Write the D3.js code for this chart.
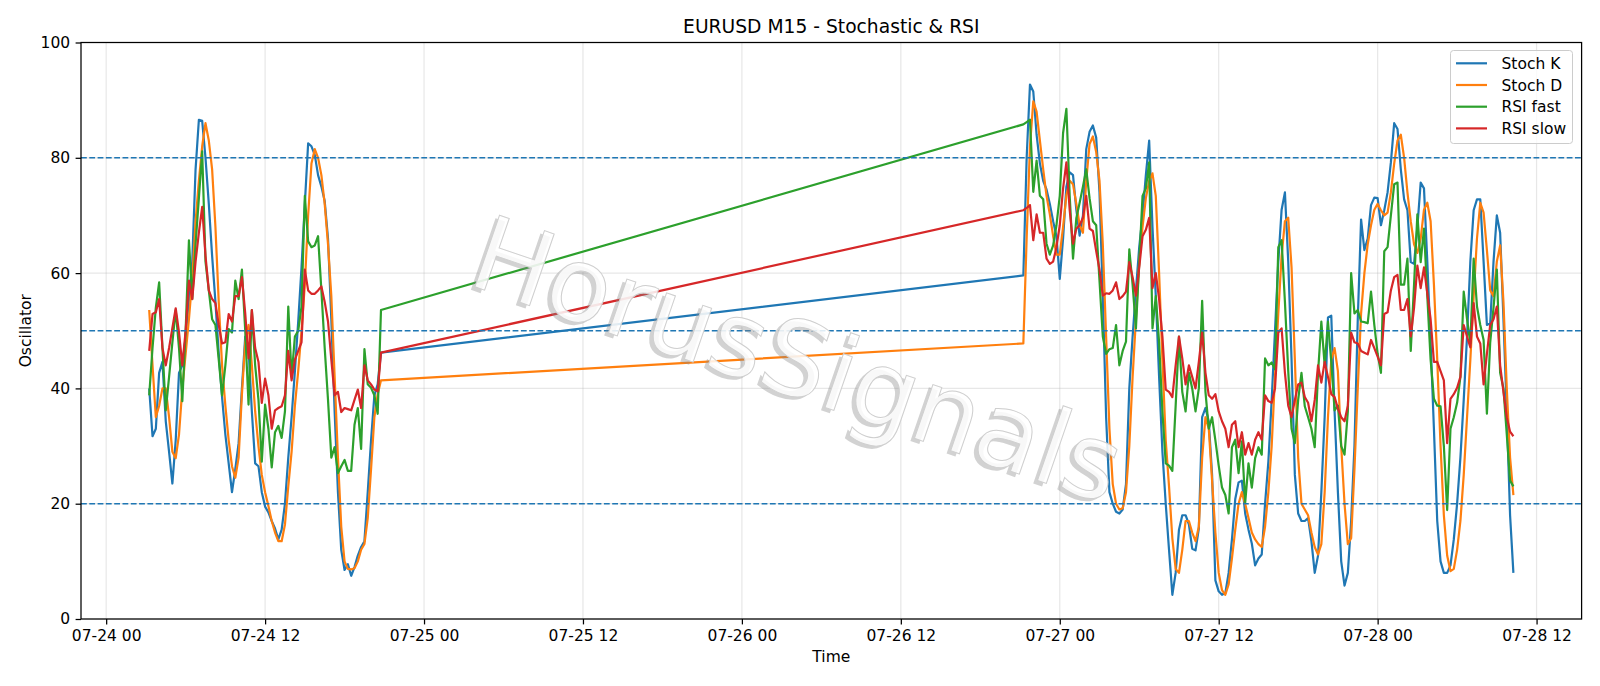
<!DOCTYPE html>
<html>
<head>
<meta charset="utf-8">
<script src="https://cdn.jsdelivr.net/npm/d3@7"></script>
<style>
  html, body { margin: 0; padding: 0; background: #fff; }
  svg { display: block; font-family: "DejaVu Sans", sans-serif; }
</style>
</head>
<body>
<svg id="chart" width="1600" height="686"></svg>
<script>
// two M15 sessions: Friday, then Sunday open -> Tuesday morning
const SESSION_STARTS = ["2020-07-24T03:15:00Z", "2020-07-26T21:15:00Z"];
const BAR_MINUTES = 15;

const SERIES_NAMES = ["Stoch K", "Stoch D", "RSI fast", "RSI slow"];
const LEVELS = [80, 50, 20];
const Y_TICKS = [0, 20, 40, 60, 80, 100];

// session 1
const stochK_fri = [40, 31.7, 33, 42.7, 44.6, 34.3, 29, 23.5, 31, 42.7,
  44, 49, 55.5, 62, 78, 86.6, 86.4, 80, 72, 63,
  55, 46, 38.5, 32, 27, 22, 26, 30.5, 40, 49,
  47, 36, 27, 26.5, 22, 19.5, 18.5, 17, 15.7, 13.8,
  15.5, 20, 28, 35, 43, 51.6, 61, 72, 82.5, 82,
  80.5, 77, 75, 72.5, 66, 52, 36, 22, 12, 8.5,
  9.5, 7.5, 9, 11, 12.5, 13.5, 22, 31, 38.8, 40.7,
  46.2];
const stochD_fri = [53.6, 44, 35, 37, 40, 40, 35, 29, 27.9, 32,
  40, 46, 52, 59, 69, 76, 82, 86, 83, 78,
  68, 55, 44, 37, 31, 26.5, 24.5, 28, 39, 48,
  51, 44, 36, 30, 25, 22, 19.6, 17, 15, 13.5,
  13.5, 16.4, 23, 29, 37, 43, 50, 58, 70, 79,
  81.5, 80, 77, 72, 65, 56, 42, 28, 16, 10,
  8.7, 8.6, 8.8, 10, 12, 13, 17.5, 26, 35, 39,
  41.4];
const rsiFast_fri = [38.8, 47, 54, 58.4, 47, 36.2, 42, 48, 53.6, 47,
  37.8, 50, 65.7, 55.5, 65, 73, 81.1, 62, 57, 52,
  51, 45, 38.8, 44, 50.3, 49.7, 58.7, 55.5, 60.6, 50,
  37.2, 53.6, 44, 38, 27.3, 37.2, 33, 26.3, 32.4, 33.5,
  31.4, 36, 54.2, 42, 49, 50, 54.2, 73.4, 65.5, 64.5,
  64.8, 66.4, 57, 47, 38, 28, 29.8, 25.3, 26.5, 27.6,
  25.7, 25.7, 33.7, 36.6, 29.5, 46.8, 40.7, 40.1, 38.8, 35.6,
  53.6];
const rsiSlow_fri = [46.5, 52.9, 53.2, 55.5, 47, 44, 47, 50.5, 53.9, 49.7,
  44, 50, 58.7, 55.5, 62, 67, 71.5, 63, 57, 55.5,
  54.8, 51, 47.8, 48, 52.9, 51.6, 56, 56, 59.3, 53,
  45.2, 53.6, 47, 44.6, 37.5, 41.7, 38.8, 33, 36.2, 36.6,
  36.9, 38.8, 46.5, 41.4, 45, 46.5, 48, 60.6, 57, 56.4,
  56.4, 57, 57.7, 55, 51.6, 45, 38.8, 39.4, 35.9, 36.6,
  36.4, 36.2, 38, 39.8, 36.6, 44, 41.4, 40.7, 39.8, 39.5,
  46.2];

// session 2
const stochK_sun = [59.6, 80, 92.7, 91.5, 84, 79, 76, 74.5, 72, 69,
  66.4, 59, 66, 75, 77.5, 77, 71, 66.5, 70, 81.5,
  84.5, 85.6, 83.5, 74, 56, 35, 22, 20, 18.6, 18.3,
  19, 23.4, 40, 49, 57, 64.5, 70, 77, 83, 68,
  56, 42, 29, 20, 12, 4.2, 8, 15.5, 18, 18,
  16.4, 12.2, 11.9, 15.7, 35, 36.6, 34.3, 25, 6.7, 4.8,
  4.2, 4.5, 8, 13.8, 20.8, 23.7, 24, 18.3, 15.5, 13.1,
  9.3, 10.5, 11.2, 20, 27.3, 38, 50, 62, 71, 74,
  62, 45, 25, 18.3, 17, 17, 17.5, 13.5, 8, 11,
  22, 35, 52.3, 52.6, 36, 22, 10, 5.8, 8, 17,
  30, 52, 69.3, 64, 66, 71.8, 73.1, 73, 68.3, 70.9,
  74, 79.2, 86, 85, 78, 72.8, 70.9, 61.9, 61.6, 68,
  75.7, 74.7, 62, 48, 33, 17, 10, 8, 8, 9.3,
  13.8, 20, 28, 38, 49, 62, 70.9, 72.8, 72.8, 62,
  51, 51.3, 62, 70, 67, 52, 36, 18, 8];
const stochD_sun = [47.8, 66, 82, 89.8, 88, 83, 78, 73.4, 70.2, 66.4,
  63.2, 63.2, 68, 73.5, 76, 75.4, 72, 68.3, 67, 76,
  82.4, 83.7, 81, 76, 65, 49, 33, 23.4, 20, 19,
  19.2, 22, 30, 42, 52, 62, 68, 73, 76, 77.3,
  73.4, 60, 45, 31, 23, 14, 8.7, 8, 12, 17,
  17, 15, 13.5, 16, 28, 35, 33, 24, 15, 8,
  5, 4.2, 6, 10.5, 15.5, 20, 22, 20, 17.5, 15,
  13.8, 13, 12.5, 16, 22, 30, 42, 53, 63, 69,
  69.6, 61, 45, 28, 20, 19, 18, 15, 12.5, 11.2,
  13, 22, 35, 45, 47, 43, 30, 20, 13, 14,
  26, 40, 53, 60, 65, 68.3, 71, 72, 70.9, 70,
  70.5, 74, 79, 83, 84, 80, 74, 69, 65, 63.5,
  66, 71, 72.2, 69, 58, 45, 30, 18, 11, 8.3,
  8.7, 12, 17, 25, 35, 45, 56, 66, 72.2, 70.5,
  64, 57, 56, 62, 64.8, 55, 40, 28, 21.5];
const rsiFast_sun = [85.8, 86.2, 86.6, 74.1, 79.5, 73.4, 72.8, 65.1, 63.2, 64.8,
  68.3, 73.4, 84.3, 88.5, 73.4, 62.5, 69.5, 72.2, 75, 78,
  73, 69, 68.3, 58.7, 49, 46, 46.8, 47, 51, 44,
  46.5, 48.1, 64.1, 58, 50.4, 61.9, 73.4, 74.7, 79.2, 50.4,
  56, 48, 36, 27, 26.6, 25.7, 37, 49, 39.4, 36,
  42.7, 40, 36, 40, 55.2, 39.4, 33, 35, 31, 26.6,
  22.8, 21.5, 18.3, 29.8, 31.1, 25.3, 30.8, 20.2, 27, 22.8,
  27.9, 29.8, 28.5, 45.2, 44, 44.5, 43.3, 64.5, 65.7, 55,
  43, 33, 30.5, 38, 42.7, 36.9, 35, 33, 29.8, 42.7,
  51.6, 44, 51.6, 44.6, 36.2, 37, 30, 28.5, 36, 60,
  53, 53.6, 51.6, 51.5, 51.3, 56.8, 51, 46, 42.7, 63.8,
  64.5, 70, 75.4, 75.7, 58, 58, 62.5, 46.5, 58, 70.2,
  61.9, 67.7, 56, 45, 38.2, 37, 36.9, 30, 18.9, 33,
  35, 37.5, 42, 56.8, 52, 47.8, 62.5, 54.2, 51, 48.4,
  35.6, 48, 54, 60.6, 42.7, 40, 32, 24, 23];
const rsiSlow_sun = [70.9, 71.3, 71.8, 65.7, 70.2, 67, 67, 62.5, 61.6, 62,
  64.5, 68.3, 74.7, 79.2, 70.9, 65.1, 67.7, 68.3, 69.6, 73.4,
  67.7, 67.3, 63.8, 60.6, 56.1, 56.5, 56.4, 57, 58.4, 55.5,
  56, 56.8, 61.9, 59.3, 56.1, 61, 66.4, 67.5, 69.6, 57.4,
  60, 55.5, 49, 39.8, 39.4, 38.5, 44, 49, 45.2, 40.7,
  44, 42, 40, 44.6, 49.7, 42.7, 38.8, 38.2, 39, 36,
  34.3, 33, 29.8, 33.7, 34.3, 29.8, 32.4, 28.5, 30.5, 28.5,
  31.1, 32.4, 31.1, 38.8, 37.8, 37.5, 40, 49.7, 50.4, 42.7,
  37, 35, 38, 40.7, 41, 38.5, 37.5, 34.3, 38, 44,
  41, 44.6, 42, 39, 38.5, 36.5, 35, 34.3, 37, 49.7,
  48, 47.8, 46.5, 46.2, 45.9, 48.4, 47, 45.5, 44, 52.9,
  53.2, 57, 59.3, 59.7, 53.6, 53.6, 55.5, 49, 54, 61.3,
  57.4, 61, 56.5, 52, 44.6, 44.6, 43, 41.4, 30.5, 38.2,
  39, 40.1, 42, 51, 49, 47.1, 54.8, 49, 47.8, 40.7,
  46, 51, 52, 54.2, 44, 39.4, 35, 32.5, 31.7];

const colors = ["#1f77b4", "#ff7f0e", "#2ca02c", "#d62728"];
const fontTick = 15.5;

const width = 1600, height = 686;
const margin = { top: 42.5, right: 18.4, bottom: 67, left: 81 };
const innerW = width - margin.left - margin.right;
const innerH = height - margin.top - margin.bottom;

function barTimes(startIso, n) {
  const s = new Date(startIso).getTime();
  return d3.range(n).map((i) => new Date(s + i * BAR_MINUTES * 60000));
}

const times = barTimes(SESSION_STARTS[0], stochK_fri.length).concat(
  barTimes(SESSION_STARTS[1], stochK_sun.length)
);

const seriesValues = [
  stochK_fri.concat(stochK_sun),
  stochD_fri.concat(stochD_sun),
  rsiFast_fri.concat(rsiFast_sun),
  rsiSlow_fri.concat(rsiSlow_sun),
];

const series = SERIES_NAMES.map((name, s) => ({
  name,
  color: colors[s],
  points: times.map((t, i) => ({ t, v: seriesValues[s][i] })),
}));

// matplotlib-like 5% margins on x
const [tMin, tMax] = d3.extent(times);
const padMs = (tMax - tMin) * 0.05;

const x = d3
  .scaleUtc()
  .domain([new Date(+tMin - padMs), new Date(+tMax + padMs)])
  .range([0, innerW]);
const y = d3.scaleLinear().domain([0, 100]).range([innerH, 0]);

const svg = d3.select("#chart");
svg.append("rect").attr("width", width).attr("height", height).attr("fill", "#fff");

const g = svg
  .append("g")
  .attr("transform", `translate(${margin.left},${margin.top})`);

svg
  .append("defs")
  .append("clipPath")
  .attr("id", "plotClip")
  .append("rect")
  .attr("width", innerW)
  .attr("height", innerH);

const xTicks = x.ticks(d3.utcHour.every(12));

// grid
g.append("g")
  .selectAll("line")
  .data(xTicks)
  .enter()
  .append("line")
  .attr("x1", (d) => x(d))
  .attr("x2", (d) => x(d))
  .attr("y1", 0)
  .attr("y2", innerH)
  .attr("stroke", "#b0b0b0")
  .attr("stroke-opacity", 0.3)
  .attr("stroke-width", 1.2);

g.append("g")
  .selectAll("line")
  .data(Y_TICKS)
  .enter()
  .append("line")
  .attr("x1", 0)
  .attr("x2", innerW)
  .attr("y1", (d) => y(d))
  .attr("y2", (d) => y(d))
  .attr("stroke", "#b0b0b0")
  .attr("stroke-opacity", 0.3)
  .attr("stroke-width", 1.2);

// series
const line = d3
  .line()
  .x((d) => x(d.t))
  .y((d) => y(d.v));

const plot = g.append("g").attr("clip-path", "url(#plotClip)");

plot
  .selectAll("path.series")
  .data(series)
  .enter()
  .append("path")
  .classed("series", true)
  .attr("d", (d) => line(d.points))
  .attr("fill", "none")
  .attr("stroke", (d) => d.color)
  .attr("stroke-width", 2.2)
  .attr("stroke-linejoin", "round");

// reference levels
plot
  .selectAll("line.level")
  .data(LEVELS)
  .enter()
  .append("line")
  .classed("level", true)
  .attr("x1", 0)
  .attr("x2", innerW)
  .attr("y1", (d) => y(d))
  .attr("y2", (d) => y(d))
  .attr("stroke", "#1f77b4")
  .attr("stroke-width", 1.5)
  .attr("stroke-dasharray", "5.8,2.5");

// watermark
const wm = svg.append("g").attr("transform", "translate(786,394) rotate(19)");
wm.append("text")
  .text("HorusSignals")
  .attr("x", -3)
  .attr("y", 4)
  .attr("text-anchor", "middle")
  .style("font-size", "104px")
  .attr("fill", "#8a8a8a")
  .attr("fill-opacity", 0.38);
wm.append("text")
  .text("HorusSignals")
  .attr("text-anchor", "middle")
  .style("font-size", "104px")
  .attr("fill", "#ffffff")
  .attr("fill-opacity", 0.85)
  .attr("stroke", "#cfcfcf")
  .attr("stroke-width", 1);

// axes
const xAxis = g
  .append("g")
  .attr("transform", `translate(0,${innerH})`)
  .call(
    d3
      .axisBottom(x)
      .tickValues(xTicks)
      .tickFormat(d3.utcFormat("%m-%d %H"))
      .tickSize(5.4)
      .tickPadding(5.4)
      .tickSizeOuter(0)
  );
const yAxis = g.append("g").call(
  d3.axisLeft(y).tickValues(Y_TICKS).tickSize(5.4).tickPadding(5.4).tickSizeOuter(0)
);

[xAxis, yAxis].forEach((a) => {
  a.select(".domain").remove();
  a.selectAll(".tick line").attr("stroke", "#000").attr("stroke-width", 1.25);
  a.selectAll(".tick text")
    .attr("fill", "#000")
    .style("font-family", "DejaVu Sans")
    .style("font-size", fontTick + "px");
});

g.append("rect")
  .attr("width", innerW)
  .attr("height", innerH)
  .attr("fill", "none")
  .attr("stroke", "#000")
  .attr("stroke-width", 1.25);

// labels
svg
  .append("text")
  .text("EURUSD M15 - Stochastic & RSI")
  .attr("x", margin.left + innerW / 2)
  .attr("y", 33)
  .attr("text-anchor", "middle")
  .style("font-size", "18.7px");

svg
  .append("text")
  .text("Time")
  .attr("x", margin.left + innerW / 2)
  .attr("y", 662)
  .attr("text-anchor", "middle")
  .style("font-size", fontTick + "px");

svg
  .append("text")
  .text("Oscillator")
  .attr("transform", `translate(31,${margin.top + innerH / 2}) rotate(-90)`)
  .attr("text-anchor", "middle")
  .style("font-size", fontTick + "px");

// legend
const legend = svg.append("g").attr("transform", "translate(1450.5,50.5)");
legend
  .append("rect")
  .attr("width", 122)
  .attr("height", 93)
  .attr("rx", 3)
  .attr("fill", "#fff")
  .attr("fill-opacity", 0.8)
  .attr("stroke", "#cccccc")
  .attr("stroke-width", 1);

const items = legend
  .selectAll("g.item")
  .data(series)
  .enter()
  .append("g")
  .classed("item", true)
  .attr("transform", (d, i) => `translate(0,${12.8 + i * 21.7})`);

items
  .append("line")
  .attr("x1", 5.5)
  .attr("x2", 36.5)
  .attr("stroke", (d) => d.color)
  .attr("stroke-width", 2.2);

items
  .append("text")
  .text((d) => d.name)
  .attr("x", 51)
  .attr("dy", "0.36em")
  .style("font-size", fontTick + "px");
</script>
</body>
</html>
